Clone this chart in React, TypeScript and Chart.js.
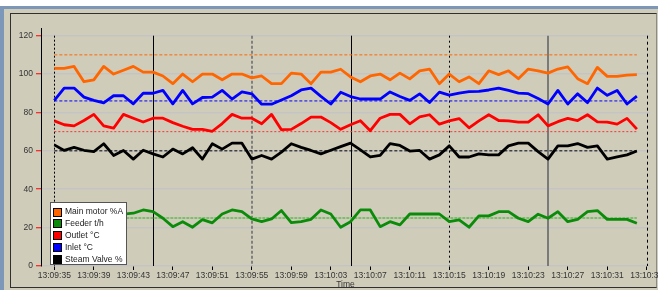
import React, { useEffect, useRef } from 'react';
import { Chart, registerables } from 'chart.js';

Chart.register(...registerables);

// ---- data ----
const tickSeconds = [0, 4, 8, 12, 16, 20, 24, 28, 32, 36, 40, 44, 48, 52, 56, 60];
const tickLabels = [
  '13:09:35', '13:09:39', '13:09:43', '13:09:47', '13:09:51', '13:09:55', '13:09:59', '13:10:03',
  '13:10:07', '13:10:11', '13:10:15', '13:10:19', '13:10:23', '13:10:27', '13:10:31', '13:10:35',
];
const yTicks = [0, 20, 40, 60, 80, 100, 120];
const markerSeconds = [0, 10, 20, 30, 40, 50, 60];

const seriesNames = ['Main motor %A', 'Feeder t/h', 'Outlet °C', 'Inlet °C', 'Steam Valve %'];

const mainMotor = [
  103, 103, 104, 96, 97, 104, 100, 102, 104, 101,
  101, 99, 95, 100, 96, 100, 100, 97, 100, 100,
  98, 99, 95, 95, 100.5, 100, 95, 101, 101, 102.5,
  98.5, 96, 99, 100, 97, 100.5, 97.5, 101.7, 102.6, 95,
  100, 96, 98.5, 95, 101.7, 99.7, 101.7, 97.6, 102.6, 101.7,
  100.5, 102.6, 103.7, 97.6, 95, 103.5, 98.8, 98.8, 99.5, 99.7,
];
const feeder = [
  26, 27, 25, 28, 26, 27, 26, 27, 27.5, 29.2,
  28.3, 24.9, 20.5, 23.1, 20.2, 24.2, 22.5, 27.1, 29.2, 28.3,
  24.5, 23.1, 24.5, 28.9, 22.6, 23.1, 24.3, 29.2, 27.1, 20.2,
  23.1, 29.2, 29.2, 20.5, 23.1, 21.4, 27.1, 27.1, 27.1, 27.1,
  23.1, 24, 20.2, 26.1, 26.1, 28.3, 28.3, 24.9, 23.1, 27,
  24.9, 28.3, 23.1, 24.3, 28.3, 28.9, 24.3, 24.3, 24.3, 22.3,
];
const outlet = [
  75.6, 73.6, 73, 75.8, 79, 73, 71.8, 79, 77, 75,
  77, 77, 74.7, 72.8, 71.2, 71.2, 70.2, 74.2, 79, 77,
  77, 74.1, 79, 71, 71.2, 74.2, 77.6, 77.6, 74.7, 71.2,
  73.6, 75.7, 70.5, 77, 79, 79, 74.1, 77.7, 78.8, 73.9,
  75.6, 76.8, 72, 75.6, 78.8, 75.8, 75.6, 75, 75, 78.8,
  73, 75.2, 76.9, 75.8, 78.8, 75.1, 75, 73.9, 76.9, 71.3,
];
const inlet = [
  86.3, 92.7, 92.7, 88, 86.3, 85, 88.7, 88.7, 84.5, 90,
  90, 91.5, 84.5, 91.5, 84.5, 87.8, 88, 91.5, 87, 90.7,
  89.7, 84.3, 84.3, 86.5, 88.7, 91.7, 92.7, 88.4, 84.4, 90.5,
  88.3, 87, 87, 87, 90.7, 88.3, 86.3, 89.7, 85.2, 90.6,
  89, 90.1, 90.8, 91, 91.7, 92.7, 91.5, 90.1, 89.8, 87.3,
  84.4, 91.5, 84.4, 89.7, 85.1, 92.7, 88.9, 91.5, 84.4, 88.5,
];
const steamValve = [
  63.1, 60.2, 61.8, 60.3, 59.6, 63.7, 57.6, 60.2, 55.7, 60.3,
  58.4, 56.8, 60.9, 58.4, 61.6, 55.7, 63.7, 60.9, 64, 64,
  55.7, 57.6, 55.7, 59.3, 63.7, 61.8, 60.2, 58.4, 60.3, 62.2,
  64, 60.5, 56.8, 57.6, 63.8, 62.8, 59.9, 60.2, 55.7, 57.9,
  62.6, 56.8, 56.8, 58.4, 57.9, 57.9, 62.6, 64, 64, 59.6,
  55.7, 62.6, 62.6, 63.8, 61.8, 62.6, 55.7, 56.8, 57.9, 59.9,
];
const limits = [110, 25, 70, 86, 60];

// ---- styles ----
const BEIGE = '#D0CCBA';
const FONT = 'Liberation Sans, Arial, sans-serif';
const seriesColors = ['#FF6600', '#0A8C0A', '#FF0000', '#0000FF', '#000000'];
const limitStyles = [
  { color: '#FF6600', width: 1, dash: [3, 2] },
  { color: '#7DBE6E', width: 2, dash: [3, 1] },
  { color: '#FF3030', width: 1, dash: [2, 2] },
  { color: '#0000FF', width: 1, dash: [3, 2] },
  { color: '#000000', width: 1, dash: [3, 2] },
];
const markerStyles = [
  { color: '#000000', width: 1, dash: [2, 2] },
  { color: '#000000', width: 1, dash: [] },
  { color: '#808080', width: 2, dash: [3, 2] },
  { color: '#000000', width: 1, dash: [] },
  { color: '#000000', width: 1, dash: [2, 3] },
  { color: '#7A7A7A', width: 2, dash: [] },
  { color: '#000000', width: 1, dash: [3, 3] },
];

const allSeries = [mainMotor, feeder, outlet, inlet, steamValve];

const markersPlugin = {
  id: 'markers',
  beforeDatasetsDraw(chart: any) {
    const { ctx, scales } = chart;
    const x = scales.x, y = scales.y;
    const top = y.getPixelForValue(120);
    const bottom = y.getPixelForValue(0);
    ctx.save();
    markerSeconds.forEach((t, i) => {
      const st = markerStyles[i];
      const px = Math.round(x.getPixelForValue(t)) + (st.width === 1 ? 0.5 : 0);
      ctx.beginPath();
      ctx.strokeStyle = st.color;
      ctx.lineWidth = st.width;
      ctx.setLineDash(st.dash);
      ctx.moveTo(px, top);
      ctx.lineTo(px, bottom);
      ctx.stroke();
    });
    ctx.restore();
  },
};

const legendPlugin = {
  id: 'boxLegend',
  afterDraw(chart: any) {
    const { ctx, chartArea } = chart;
    const x0 = chartArea.left + 9;
    const y0 = chartArea.bottom - 64;
    const w = 77;
    const h = 63;
    ctx.save();
    ctx.fillStyle = '#FFFFFF';
    ctx.fillRect(x0, y0, w, h);
    ctx.strokeStyle = '#555555';
    ctx.lineWidth = 1;
    ctx.setLineDash([]);
    ctx.strokeRect(x0 + 0.5, y0 + 0.5, w - 1, h - 1);
    ctx.font = `8.5px ${FONT}`;
    ctx.textBaseline = 'middle';
    ctx.textAlign = 'left';
    seriesNames.forEach((name, i) => {
      const cy = y0 + 9.5 + i * 11.8;
      const sx = x0 + 3.5;
      const sy = Math.round(cy - 4) + 0.5;
      ctx.fillStyle = seriesColors[i];
      ctx.fillRect(sx, sy, 8, 8);
      ctx.strokeStyle = '#000000';
      ctx.strokeRect(sx, sy, 8, 8);
      ctx.fillStyle = '#222222';
      ctx.fillText(name, x0 + 15, cy + 0.5);
    });
    ctx.restore();
  },
};

export default function App() {
  const canvasRef = useRef<HTMLCanvasElement | null>(null);

  useEffect(() => {
    document.body.style.margin = '0';
    const canvas = canvasRef.current;
    if (!canvas) return;

    const seriesDatasets = allSeries.map((vals, i) => ({
      label: seriesNames[i],
      data: vals.map((v, k) => ({ x: k, y: v })),
      borderColor: seriesColors[i],
      backgroundColor: seriesColors[i],
      borderWidth: 2.8,
      pointRadius: 0,
      tension: 0,
      fill: false,
      borderJoinStyle: 'round' as const,
      order: 0,
    }));
    const lastIndex = mainMotor.length - 1;
    const limitDatasets = limits.map((v, i) => ({
      label: seriesNames[i] + ' limit',
      data: [{ x: 0, y: v }, { x: lastIndex, y: v }],
      borderColor: limitStyles[i].color,
      borderWidth: limitStyles[i].width,
      borderDash: limitStyles[i].dash,
      pointRadius: 0,
      tension: 0,
      fill: false,
      order: 1,
    }));

    const chart = new Chart(canvas, {
      type: 'line',
      data: { datasets: [...seriesDatasets, ...limitDatasets] as any },
      options: {
        animation: false,
        responsive: false,
        maintainAspectRatio: false,
        devicePixelRatio: 1,
        layout: { padding: { top: 28, right: 50, left: 0, bottom: 0 } },
        plugins: {
          legend: { display: false },
          tooltip: { enabled: false },
        },
        scales: {
          x: {
            type: 'linear',
            min: -1.35,
            max: 60.33,
            afterBuildTicks: (s: any) => {
              s.ticks = tickSeconds.map((v) => ({ value: v }));
            },
            afterFit: (s: any) => {
              s.height = 24;
            },
            ticks: {
              autoSkip: false,
              maxRotation: 0,
              padding: 1,
              color: '#333333',
              font: { family: FONT, size: 8.5 },
              callback: (_v: any, idx: number) => tickLabels[idx],
            },
            grid: {
              drawOnChartArea: false,
              drawTicks: true,
              tickLength: 4,
              tickColor: '#000000',
              color: '#000000',
            },
            border: { display: false },
            title: {
              display: true,
              text: 'Time',
              color: '#333333',
              padding: { top: 0, bottom: 0 },
              font: { family: FONT, size: 8.5 },
            },
          },
          y: {
            type: 'linear',
            min: 0,
            max: 124,
            afterBuildTicks: (s: any) => {
              s.ticks = yTicks.map((v) => ({ value: v }));
            },
            afterFit: (s: any) => {
              s.width = 41;
            },
            ticks: {
              padding: 3,
              color: '#333333',
              font: { family: FONT, size: 8.5 },
            },
            grid: {
              color: '#C4C4C4',
              lineWidth: 1.5,
              drawTicks: true,
              tickLength: 5,
              tickColor: '#FF0000',
              tickWidth: 1,
            },
            border: { display: true, color: '#000000', width: 1 },
          },
        },
      },
      plugins: [markersPlugin, legendPlugin],
    });

    return () => {
      chart.destroy();
    };
  }, []);

  return (
    <div style={{ position: 'relative', width: 658, height: 290, overflow: 'hidden', background: '#FFFFFF' }}>
      <div style={{ position: 'absolute', left: 0, top: 6, right: 0, height: 3, background: '#7D97B8' }} />
      <div style={{ position: 'absolute', left: 0, top: 6, width: 4, bottom: 0, background: '#7D97B8' }} />
      <div style={{ position: 'absolute', left: 4, top: 9, right: 0, bottom: 0, background: BEIGE }} />
      <div
        style={{
          position: 'absolute',
          left: 10,
          top: 13,
          width: 645,
          height: 273,
          borderTop: '1px solid #303030',
          borderLeft: '1px solid #303030',
          borderBottom: '1px solid #303030',
          borderRight: '1px solid #8A8A8A',
        }}
      />
      <canvas
        ref={canvasRef}
        width={700}
        height={290}
        style={{ position: 'absolute', left: 0, top: 0, width: 700, height: 290 }}
      />
    </div>
  );
}
